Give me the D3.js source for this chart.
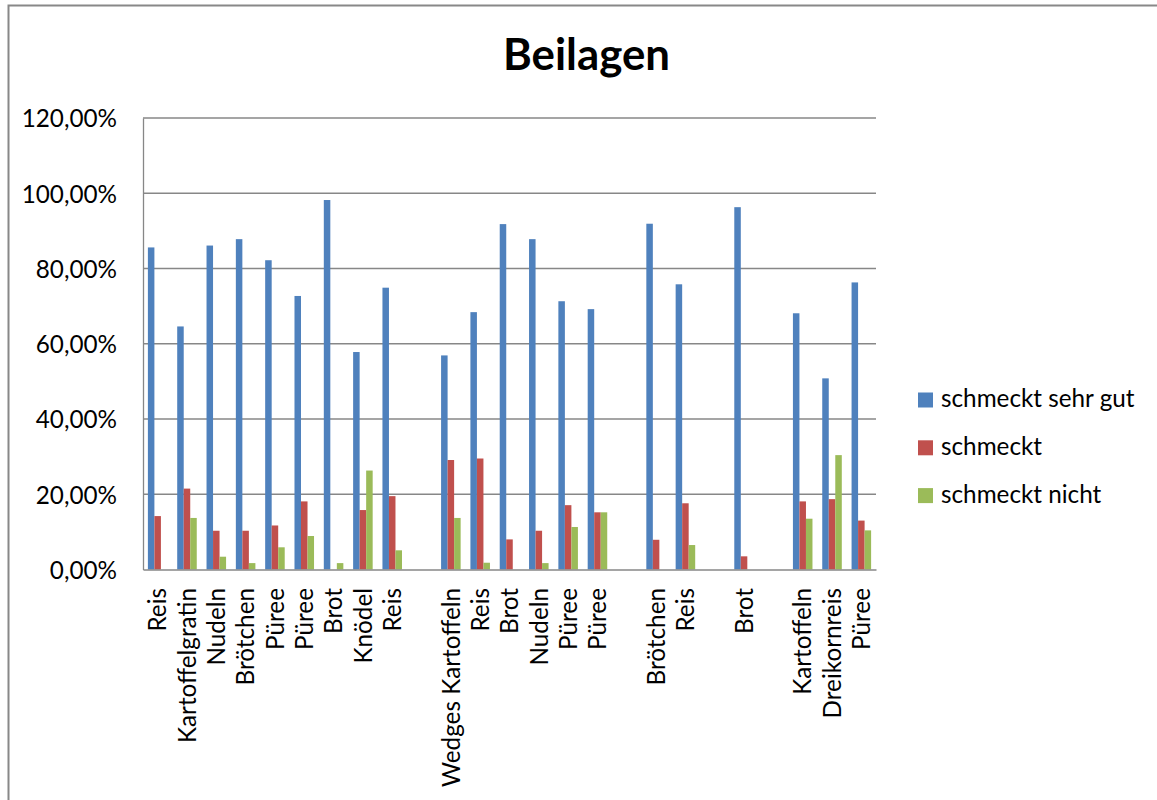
<!DOCTYPE html>
<html>
<head>
<meta charset="utf-8">
<script src="https://cdn.jsdelivr.net/npm/d3@7"></script>
<style>
  html, body { margin: 0; padding: 0; background: #fff; }
  svg { display: block; }
</style>
</head>
<body>
<svg id="chart" width="1157" height="800"></svg>
<script>
const title = "Beilagen";
const categories = ["Reis", "Kartoffelgratin", "Nudeln", "Brötchen", "Püree", "Püree", "Brot", "Knödel", "Reis", "",
  "Wedges Kartoffeln", "Reis", "Brot", "Nudeln", "Püree", "Püree", "",
  "Brötchen", "Reis", "", "Brot", "", "Kartoffeln", "Dreikornreis", "Püree"];
const seriesNames = ["schmeckt sehr gut", "schmeckt", "schmeckt nicht"];
const sehrGut = [85.6, 64.6, 86.1, 87.8, 82.2, 72.7, 98.2, 57.8, 74.9, null, 56.9, 68.4, 91.8, 87.8, 71.3, 69.2, null, 91.9, 75.8, null, 96.3, null, 68.1, 50.8, 76.3];
const gut     = [14.2, 21.5, 10.3, 10.3, 11.7, 18.1, 0, 15.8, 19.5, null, 29.1, 29.5, 8.0, 10.3, 17.1, 15.2, null, 7.9, 17.6, null, 3.5, null, 18.1, 18.7, 13.0];
const nicht   = [0, 13.7, 3.4, 1.7, 5.9, 8.9, 1.7, 26.3, 5.1, null, 13.7, 1.8, 0, 1.7, 11.3, 15.2, null, 0, 6.5, null, 0, null, 13.5, 30.4, 10.4];
const yTicks = [0, 20, 40, 60, 80, 100, 120];
const colors = ["#4F81BD", "#C0504D", "#9BBB59"];

(function () {
const svg = d3.select("#chart");
const FONT = "Lato, 'Open Sans', sans-serif";

function measure(txt, size, weight) {
  const t = svg.append("text").attr("font-family", FONT).attr("font-size", size)
    .attr("font-weight", weight || "normal").text(txt);
  const w = t.node().getComputedTextLength();
  t.remove();
  return w;
}
const fs = 100 * 155 / measure("Kartoffelgratin", 100);
const fsTitle = 100 * 167 / measure(title, 100, "bold");

// outer border
svg.append("rect").attr("x", 8.5).attr("y", 5.5).attr("width", 1300).attr("height", 900)
  .attr("fill", "none").attr("stroke", "#888").attr("stroke-width", 2);

const pLeft = 143, pRight = 876, pTop = 118, pBottom = 569.5;
const x = d3.scaleBand().domain(d3.range(categories.length)).range([pLeft, pRight]).paddingInner(0).paddingOuter(0);
const gap = 1.5;
const barW = x.bandwidth() / (3 + gap);
const y = d3.scaleLinear().domain([0, 120]).range([pBottom, pTop]);

const de = d3.formatLocale({decimal: ",", thousands: ".", grouping: [3], currency: ["", "€"]});
const fmt = de.format(".2f");

// gridlines
svg.append("g").selectAll("line").data(yTicks.filter(d => d > 0)).join("line")
  .attr("x1", pLeft).attr("x2", pRight)
  .attr("y1", d => y(d)).attr("y2", d => y(d))
  .attr("stroke", "#878787").attr("stroke-width", 1.3);

const yAxis = svg.append("g").attr("transform", `translate(${pLeft},0)`)
  .call(d3.axisLeft(y).tickValues(yTicks).tickSize(0).tickPadding(26).tickFormat(d => fmt(d) + "%"));
yAxis.select(".domain").attr("stroke", "#878787").attr("stroke-width", 1.3);
yAxis.selectAll("text").attr("font-family", FONT).attr("font-size", fs).attr("fill", "#000")
  .attr("dy", "0.36em");

const series = [sehrGut, gut, nicht];
series.forEach((vals, si) => {
  svg.append("g").selectAll("rect")
    .data(vals.map((v, i) => ({v, i})).filter(d => d.v !== null && d.v > 0))
    .join("rect")
    .attr("x", d => x(d.i) + barW * gap / 2 + si * barW)
    .attr("width", barW)
    .attr("y", d => y(d.v))
    .attr("height", d => y(0) - y(d.v))
    .attr("fill", colors[si]);
});

const xAxis = svg.append("g").attr("transform", `translate(0,${pBottom})`)
  .call(d3.axisBottom(x).tickSize(0).tickFormat(i => categories[i]));
xAxis.select(".domain").attr("stroke", "#878787").attr("stroke-width", 1.3);
xAxis.selectAll("text")
  .attr("font-family", FONT).attr("font-size", fs).attr("fill", "#000")
  .attr("text-anchor", "end")
  .attr("transform", "rotate(-90)")
  .attr("x", -18.5).attr("y", 0).attr("dy", "0.36em");

svg.append("text").attr("x", 586.5).attr("y", 70)
  .attr("text-anchor", "middle").attr("font-family", FONT).attr("font-weight", "bold")
  .attr("font-size", fsTitle).attr("fill", "#000").text(title);

const lg = svg.append("g");
seriesNames.forEach((name, i) => {
  const cy = 400 + i * 47.8;
  lg.append("rect").attr("x", 918).attr("y", cy - 7.5).attr("width", 15).attr("height", 15).attr("fill", colors[i]);
  lg.append("text").attr("x", 941).attr("y", cy + 7).attr("font-family", FONT).attr("font-size", fs)
    .attr("fill", "#000").text(name);
});
})();
</script>
</body>
</html>
